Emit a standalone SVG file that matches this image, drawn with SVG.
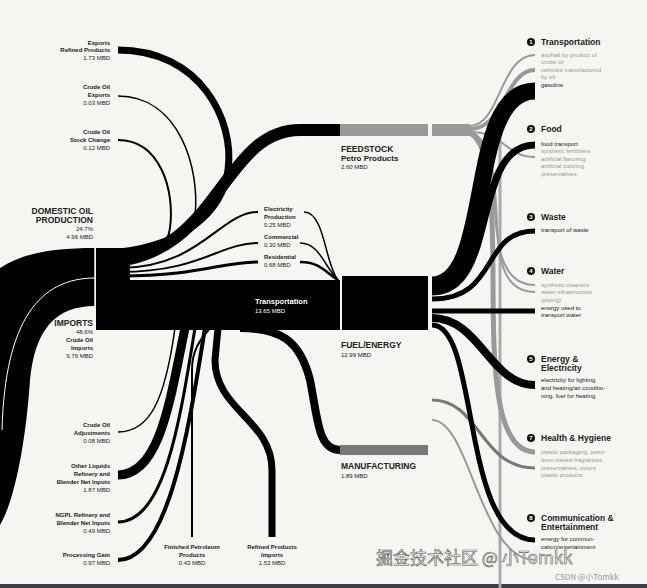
<svg xmlns="http://www.w3.org/2000/svg" width="647" height="588" viewBox="0 0 647 588">
<style>
text{font-family:"Liberation Sans",Arial,sans-serif;font-size:6px;fill:#222}
.b{font-weight:bold}
.h{font-weight:bold;font-size:8.5px}
.r{text-anchor:end}
.m{text-anchor:middle}
.g{fill:#999}
.w{fill:#fff}
.k{fill:none;stroke:#000}
.y{fill:none;stroke:#999}
.n{fill:#111}
.nt{fill:#fff;font-size:6px;font-weight:bold;text-anchor:middle}
</style>
<rect width="647" height="588" fill="#f5f5f1"/>
<rect y="584" width="647" height="4" fill="#3a3f47"/>
<g id="connectors">
<path d="M0,268 C25,252 55,248 95,248 L95,306 C55,306 35,330 30,380 C26,440 15,500 0,525 Z" fill="#000"/>
<path d="M2,430 C5,320 40,278 95,278" fill="none" stroke="#fff" stroke-width="1"/>
<path class="k" stroke-width="7" d="M118,50 C200,50 235,120 228,170 C222,215 180,245 120,252"/>
<path class="k" stroke-width="1.5" d="M118,96 C180,96 200,170 195,215 C192,240 170,250 120,254"/>
<path class="k" stroke-width="2" d="M118,140 C160,140 175,190 170,228 C168,245 160,252 120,256"/>
<path class="k" stroke-width="12" d="M100,262 C220,262 220,130 300,130 L340,130"/>
<path class="k" stroke-width="2" d="M120,268 C200,268 220,212 258,212"/>
<path class="k" stroke-width="2" d="M120,272 C200,272 220,243 258,243"/>
<path class="k" stroke-width="3" d="M120,276 C200,276 220,262 258,262"/>
<path class="k" stroke-width="1.5" d="M304,212 C325,212 325,265 338,280"/>
<path class="k" stroke-width="1.5" d="M300,243 C320,243 325,268 338,280"/>
<path class="k" stroke-width="2.5" d="M300,262 C320,262 325,272 338,280"/>
<rect x="96" y="248" width="34" height="82" fill="#000"/>
<rect x="96" y="280" width="244" height="50" fill="#000"/>
<line x1="95" y1="248" x2="95" y2="330" stroke="#f5f5f1" stroke-width="1.5"/>
<rect x="342" y="276" width="86" height="54" fill="#000"/>
<path class="k" stroke-width="1.5" d="M118,432 C150,432 165,400 175,328"/>
<path class="k" stroke-width="9" d="M118,475 C160,475 170,400 185,328"/>
<path class="k" stroke-width="3" d="M118,522 C165,522 180,420 195,328"/>
<path class="k" stroke-width="4" d="M118,560 C170,560 190,420 205,328"/>
<path class="k" stroke-width="2" d="M192,537 L192,370 C192,350 200,340 210,328"/>
<path class="k" stroke-width="7" d="M272,537 L272,470 C272,420 215,410 215,360 L218,328"/>
<path class="k" stroke-width="8" d="M240,328 C280,328 300,340 310,380 C318,420 318,450 340,450"/>
<rect x="340" y="124" width="88" height="12" fill="#999"/>
<rect x="432" y="124" width="38" height="12" fill="#999"/>
<rect x="340" y="445" width="88" height="10" fill="#777"/>
<line x1="500" y1="130" x2="500" y2="588" stroke="#aaa" stroke-width="3"/>
<path class="y" stroke-width="2" d="M470,126 C500,126 500,55 535,55"/>
<path class="y" stroke-width="4" d="M470,129 C505,129 505,70 535,70"/>
<path class="y" stroke-width="2" d="M470,132 C505,132 505,157 535,157"/>
<path class="y" stroke-width="2" d="M470,134 C515,140 470,285 535,285"/>
<path class="y" stroke-width="2" d="M470,130 C520,160 470,292 535,292"/>
<path class="y" stroke-width="5" d="M470,133 C520,160 460,452 535,452"/>
<path fill="none" stroke="#777" stroke-width="3" d="M432,400 C480,400 480,468 535,468"/>
<path class="y" stroke-width="2" d="M432,420 C470,420 480,560 535,560"/>
<path class="k" stroke-width="17" d="M432,285 C495,285 465,91 535,91"/>
<path class="k" stroke-width="7" d="M432,292 C500,292 470,145 535,145"/>
<path class="k" stroke-width="5" d="M432,299 C500,299 480,231 535,231"/>
<path class="k" stroke-width="5" d="M432,311 L535,311"/>
<path class="k" stroke-width="8" d="M432,318 C480,318 490,385 535,385"/>
<path class="k" stroke-width="5" d="M432,325 C480,325 460,540 535,540"/>
<line x1="430" y1="120" x2="430" y2="335" stroke="#f5f5f1" stroke-width="2"/>
</g>
<g id="left-labels">
<text class="r b" x="110" y="45">Exports</text><text class="r b" x="110" y="52">Refined Products</text><text class="r" x="110" y="60">1.73 MBD</text>
<text class="r b" x="110" y="89">Crude Oil</text><text class="r b" x="110" y="97">Exports</text><text class="r" x="110" y="105">0.03 MBD</text>
<text class="r b" x="110" y="134">Crude Oil</text><text class="r b" x="110" y="142">Stock Change</text><text class="r" x="110" y="150">0.12 MBD</text>
<text class="r h" x="93" y="214">DOMESTIC OIL</text><text class="r h" x="93" y="223">PRODUCTION</text><text class="r" x="93" y="231">24.7%</text><text class="r" x="93" y="239">4.96 MBD</text>
<text class="r h" x="93" y="326">IMPORTS</text><text class="r" x="93" y="334">48.6%</text><text class="r b" x="93" y="342">Crude Oil</text><text class="r b" x="93" y="350">Imports</text><text class="r" x="93" y="358">9.76 MBD</text>
<text class="r b" x="110" y="427">Crude Oil</text><text class="r b" x="110" y="435">Adjustments</text><text class="r" x="110" y="443">0.08 MBD</text>
<text class="r b" x="110" y="468">Other Liquids</text><text class="r b" x="110" y="476">Refinery and</text><text class="r b" x="110" y="484">Blender Net Inputs</text><text class="r" x="110" y="492">1.87 MBD</text>
<text class="r b" x="110" y="517">NGPL Refinery and</text><text class="r b" x="110" y="525">Blender Net Inputs</text><text class="r" x="110" y="533">0.49 MBD</text>
<text class="r b" x="110" y="557">Processing Gain</text><text class="r" x="110" y="565">0.97 MBD</text>
<text class="m b" x="192" y="549">Finished Petroleum</text><text class="m b" x="192" y="557">Products</text><text class="m" x="192" y="565">0.43 MBD</text>
<text class="m b" x="272" y="549">Refined Products</text><text class="m b" x="272" y="557">Imports</text><text class="m" x="272" y="565">1.53 MBD</text>
</g>
<g id="middle-labels">
<text class="b" x="264" y="211">Electricity</text><text class="b" x="264" y="219">Production</text><text x="264" y="227">0.25 MBD</text>
<text class="b" x="264" y="239">Commercial</text><text x="264" y="247">0.30 MBD</text>
<text class="b" x="264" y="259">Residential</text><text x="264" y="267">0.68 MBD</text>
<text class="b w" x="255" y="304" style="font-size:7.5px">Transportation</text><text class="w" x="255" y="313">13.65 MBD</text>
<text class="h" x="341" y="152">FEEDSTOCK</text><text class="b" x="341" y="161" style="font-size:8px">Petro Products</text><text x="341" y="169">2.60 MBD</text>
<text class="h" x="341" y="348">FUEL/ENERGY</text><text x="341" y="357">12.99 MBD</text>
<text class="h" x="341" y="469">MANUFACTURING</text><text x="341" y="478">1.89 MBD</text>
</g>
<g id="right-labels">
<circle class="n" cx="531" cy="42" r="4"/><text class="nt" x="531" y="44">1</text><text class="h" x="541" y="45">Transportation</text>
<text class="g" x="541" y="57">asphalt by product of</text><text class="g" x="541" y="64">crude oil</text><text class="g" x="541" y="72">vehicles manufactured</text><text class="g" x="541" y="79">by oil</text><text x="541" y="87">gasoline</text>
<circle class="n" cx="531" cy="129" r="4"/><text class="nt" x="531" y="131">2</text><text class="h" x="541" y="132">Food</text>
<text x="541" y="146">food transport</text><text class="g" x="541" y="153">synthetic fertilizers</text><text class="g" x="541" y="161">artificial flavoring</text><text class="g" x="541" y="168">artificial coloring</text><text class="g" x="541" y="176">preservatives</text>
<circle class="n" cx="531" cy="217" r="4"/><text class="nt" x="531" y="219">3</text><text class="h" x="541" y="220">Waste</text>
<text x="541" y="232">transport of waste</text>
<circle class="n" cx="531" cy="271" r="4"/><text class="nt" x="531" y="273">4</text><text class="h" x="541" y="274">Water</text>
<text class="g" x="541" y="287">synthetic cleaners</text><text class="g" x="541" y="294">water infrastructure</text><text class="g" x="541" y="302">(piping)</text><text x="541" y="310">energy used to</text><text x="541" y="317">transport water</text>
<circle class="n" cx="531" cy="359" r="4"/><text class="nt" x="531" y="361">5</text><text class="h" x="541" y="362">Energy &amp;</text><text class="h" x="541" y="371">Electricity</text>
<text x="541" y="382">electricity for lighting</text><text x="541" y="390">and heating/air conditio-</text><text x="541" y="398">ning, fuel for heating</text>
<circle class="n" cx="531" cy="438" r="4"/><text class="nt" x="531" y="440">7</text><text class="h" x="541" y="441">Health &amp; Hygiene</text>
<text class="g" x="541" y="454">plastic packaging, petro-</text><text class="g" x="541" y="462">leum-based fragrances</text><text class="g" x="541" y="470">preservatives, colors</text><text class="g" x="541" y="477">plastic products</text>
<circle class="n" cx="531" cy="518" r="4"/><text class="nt" x="531" y="520">8</text><text class="h" x="541" y="521">Communication &amp;</text><text class="h" x="541" y="530">Entertainment</text>
<text x="541" y="541">energy for commun-</text><text x="541" y="549">cation/entertainment</text>
</g>
<g id="watermark">
<text x="376" y="564" style="font-family:'Noto Sans CJK SC',sans-serif;font-size:17px;fill:#fff;stroke:#555;stroke-width:0.6">掘金技术社区 @ 小Tomkk</text>
<text x="555" y="580" style="font-family:'Noto Sans CJK SC',sans-serif;font-size:8px;fill:#999">CSDN @小Tomkk</text>
</g>
</svg>
